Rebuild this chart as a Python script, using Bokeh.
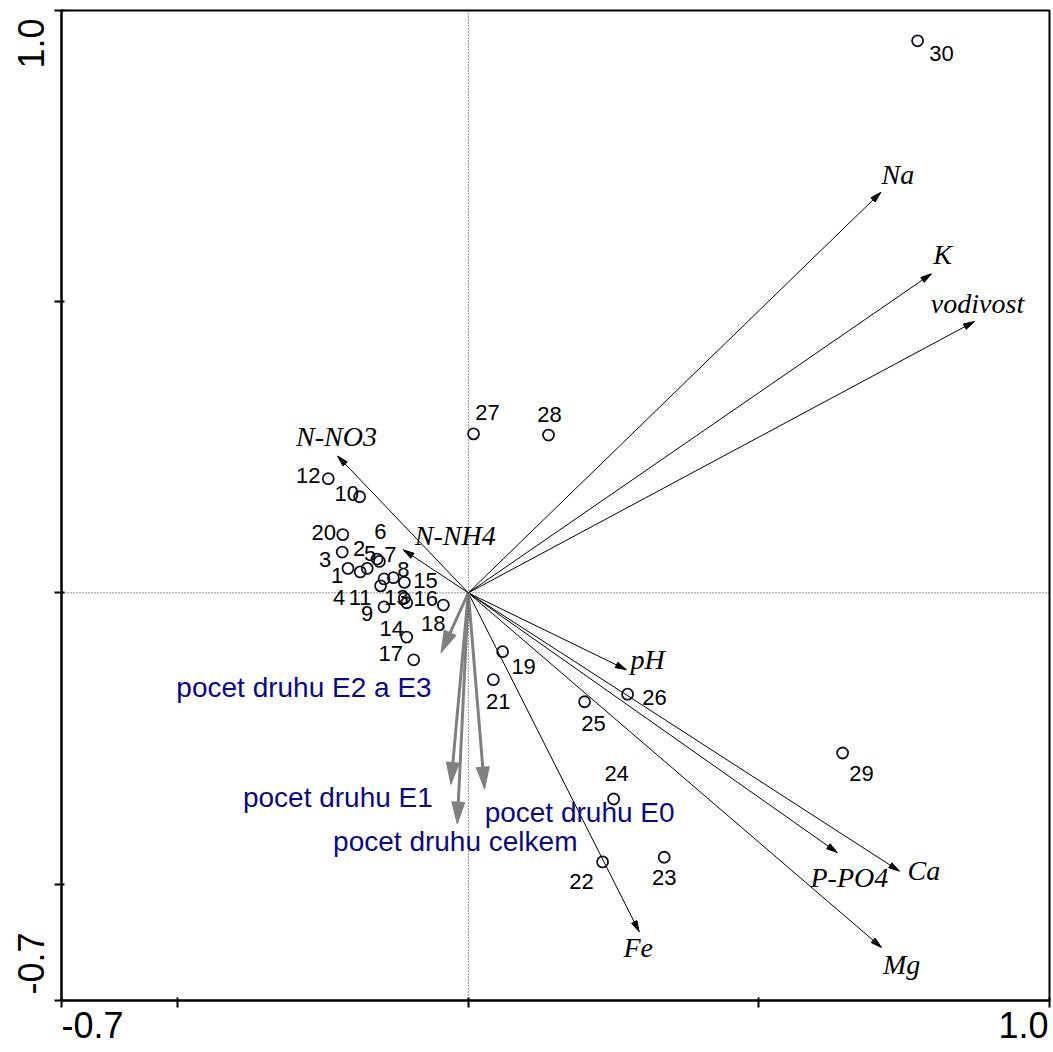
import numpy as np
from bokeh.plotting import figure
from bokeh.models import Span, FixedTicker, ColumnDataSource, Range1d, LinearAxis
from bokeh.core.properties import value
from bokeh.embed import file_html
from bokeh.resources import INLINE

# ---------------- data ----------------
sample_ids = [str(i) for i in range(1, 31)]
sample_x = [-0.207, -0.174, -0.217, -0.186, -0.157, -0.153, -0.129, -0.110, -0.145, -0.187,
            -0.145, -0.241, -0.110, -0.106, -0.151, -0.106, -0.094, -0.043, 0.059, -0.216,
            0.043, 0.231, 0.337, 0.250, 0.200, 0.274, 0.009, 0.138, 0.644, 0.773]
sample_y = [0.042, 0.042, 0.070, 0.036, 0.058, 0.054, 0.026, 0.018, -0.024, 0.165,
            0.024, 0.196, -0.009, -0.076, 0.012, -0.017, -0.115, -0.021, -0.101, 0.100,
            -0.149, -0.462, -0.454, -0.354, -0.187, -0.174, 0.273, 0.271, -0.275, 0.948]

env_names = ["Na", "K", "vodivost", "N-NO3", "N-NH4", "pH", "P-PO4", "Ca", "Mg", "Fe"]
env_x = [0.710, 0.797, 0.871, -0.225, -0.112, 0.272, 0.635, 0.742, 0.711, 0.294]
env_y = [0.688, 0.548, 0.466, 0.235, 0.074, -0.132, -0.446, -0.478, -0.609, -0.582]

sp_names = ["pocet druhu E2 a E3", "pocet druhu E1", "pocet druhu celkem", "pocet druhu E0"]
sp_x = [-0.047, -0.030, -0.019, 0.028]
sp_y = [-0.103, -0.329, -0.397, -0.337]

axis_min, axis_max = -0.7, 1.0
tick_values = [-0.7, -0.5, 0.0, 0.5, 1.0]
labelled_ticks = [-0.7, 1.0]
tick_labels = {-0.7: "-0.7", 1.0: "1.0"}

# ---------------- style / label placement (pixels) ----------------
sample_dx = [-11, -8, -17, -21, -7, 1, -3, -1, -17, -13,
             -24, -20, -8, -15, 45, 19, -23, -10, 21, -19,
             5, -21, 0, 3, 9, 27, 14, 1, 19, 24]
sample_dy = [7, -20, 7, 26, -6, -30, -23, -13, 7, -3,
             19, -3, -1, -9, -5, -4, -6, 18, 15, -2,
             22, 20, 20, -26, 22, 3, -21, -21, 20, 13]
env_dx = [17, 11, 3, -1, 52, 4, 12, 8, 20, -1]
env_dy = [-18, -19, -18, -20, -14, -10, 25, -1, 17, 16]
env_align = ["center", "center", "center", "center", "center", "left", "center", "left", "center", "center"]
sp_dx = [-137, -113, -2, 95]
sp_dy = [35, 13, 17, 23]

W, H = 1053, 1052
BL, BR, BT, BB = 61, 4, 10, 52
FRAME_W = W - BL - BR
FRAME_H = H - BT - BB
SPAN = axis_max - axis_min
SX = FRAME_W / SPAN
SY = FRAME_H / SPAN
# pixel insets of the end-label centres from the frame corners
XL_IN, XR_IN = 31, 26
YB_IN, YT_IN = 37, 33
LABEL_FONT = "36px"

bx_scale = (FRAME_W - XL_IN - XR_IN) / SPAN
by_scale = (FRAME_H - YB_IN - YT_IN) / SPAN

p = figure(width=W, height=H, output_backend="svg", toolbar_location=None,
           x_range=Range1d(axis_min, axis_max), y_range=Range1d(axis_min, axis_max),
           min_border_left=BL, min_border_right=BR, min_border_top=BT, min_border_bottom=BB)
p.extra_x_ranges = {"lab": Range1d(axis_min - XL_IN / bx_scale, axis_max + XR_IN / bx_scale)}
p.extra_y_ranges = {"lab": Range1d(axis_min - YB_IN / by_scale, axis_max + YT_IN / by_scale)}
p.grid.visible = False
p.outline_line_color = "black"
p.outline_line_width = 2
p.background_fill_color = "white"
p.border_fill_color = "white"
for ax in (p.xaxis[0], p.yaxis[0]):
    ax.ticker = FixedTicker(ticks=tick_values)
    ax.minor_tick_line_color = None
    ax.major_tick_in = 3
    ax.major_tick_out = 7
    ax.major_tick_line_width = 2
    ax.axis_line_width = 2
    ax.major_label_text_color = None
    ax.major_label_standoff = 0

lab_kw = dict(ticker=FixedTicker(ticks=labelled_ticks), major_label_overrides=tick_labels,
              axis_line_color=None, major_tick_line_color=None, minor_tick_line_color=None,
              major_tick_in=0, major_tick_out=0,
              major_label_text_font="Liberation Sans", major_label_text_font_size=LABEL_FONT,
              major_label_text_color="black")
p.add_layout(LinearAxis(x_range_name="lab", major_label_standoff=4, **lab_kw), "below")
p.add_layout(LinearAxis(y_range_name="lab", major_label_orientation="vertical",
                        major_label_standoff=11, **lab_kw), "left")

p.add_layout(Span(location=0, dimension="height", line_dash="1 2", line_color="#222222", line_width=1))
p.add_layout(Span(location=0, dimension="width", line_dash="1 2", line_color="#222222", line_width=1))


def heads(xs, ys, L, Wd):
    hx, hy, bx, by = [], [], [], []
    for xt, yt in zip(xs, ys):
        px, py = xt * SX, yt * SY
        n = np.hypot(px, py)
        ux, uy = px / n, py / n
        cx, cy = px - ux * L, py - uy * L
        vx, vy = -uy, ux
        hx.append([px / SX, (cx + vx * Wd / 2) / SX, (cx - vx * Wd / 2) / SX])
        hy.append([py / SY, (cy + vy * Wd / 2) / SY, (cy - vy * Wd / 2) / SY])
        bx.append((cx + ux * 2) / SX)
        by.append((cy + uy * 2) / SY)
    return hx, hy, bx, by


# environmental arrows
ehx, ehy, ebx, eby = heads(env_x, env_y, 11, 6)
p.segment(x0=[0] * len(env_x), y0=[0] * len(env_y), x1=ebx, y1=eby, line_color="black", line_width=1)
p.patches(xs=ehx, ys=ehy, fill_color="black", line_color="black", line_width=1)

# species count arrows
shx, shy, sbx, sby = heads(sp_x, sp_y, 22, 13)
p.segment(x0=[0] * len(sp_x), y0=[0] * len(sp_y), x1=sbx, y1=sby, line_color="#808080", line_width=3)
p.patches(xs=shx, ys=shy, fill_color="#808080", line_color="#808080", line_width=1)

# samples
src = ColumnDataSource(dict(x=sample_x, y=sample_y, t=sample_ids, dx=sample_dx, dy=sample_dy))
p.scatter(x="x", y="y", source=src, marker="circle", size=11, fill_alpha=0,
          line_color="#111122", line_width=1.8)
p.text(x="x", y="y", text="t", x_offset="dx", y_offset="dy", source=src,
       text_font=value("Liberation Sans"), text_font_size="22px", text_color="black",
       text_align="center", text_baseline="middle")

# env labels
esrc = ColumnDataSource(dict(x=env_x, y=env_y, t=env_names, dx=env_dx, dy=env_dy, a=env_align))
p.text(x="x", y="y", text="t", x_offset="dx", y_offset="dy", text_align="a", source=esrc,
       text_font=value("Liberation Serif"), text_font_style="italic", text_font_size="28px",
       text_color="black", text_baseline="alphabetic")

# species labels
ssrc = ColumnDataSource(dict(x=sp_x, y=sp_y, t=sp_names, dx=sp_dx, dy=sp_dy))
p.text(x="x", y="y", text="t", x_offset="dx", y_offset="dy", source=ssrc,
       text_font=value("Liberation Sans"), text_font_size="28px", text_color="#0a0a80",
       text_align="center", text_baseline="alphabetic")

open("out.html", "w").write(file_html(p, INLINE))
